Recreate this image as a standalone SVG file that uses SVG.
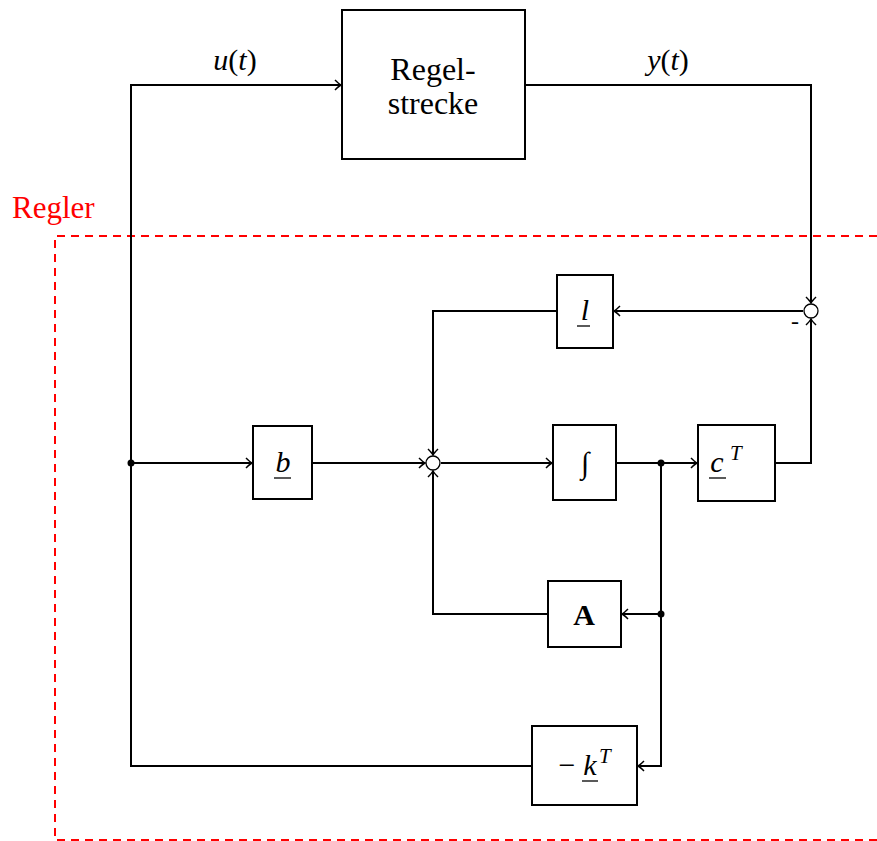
<svg xmlns="http://www.w3.org/2000/svg" width="877" height="841" viewBox="0 0 877 841" font-family="'Liberation Serif', 'DejaVu Serif', serif">
<style>
.box{fill:#fff;stroke:#000;stroke-width:2}
.ln{fill:none;stroke:#000;stroke-width:2}
.arr{marker-end:url(#ah)}
.sum{fill:#fff;stroke:#000;stroke-width:1.3}
.t{font-size:30px;fill:#000}
.m{font-style:italic}
.sup{font-size:21px;font-style:italic}
.ul{stroke:#000;stroke-width:1.3}
.dot{fill:#000}
</style>
<defs>
<marker id="ah" viewBox="-8 -6 10 12" refX="0" refY="0" markerWidth="10" markerHeight="12" orient="auto" markerUnits="userSpaceOnUse">
<path d="M -6 -5 Q -2 -1 0 0 Q -2 1 -6 5" fill="none" stroke="#000" stroke-width="1.5"/>
</marker>
</defs>

<g id="regler-frame">
<path d="M 877 236 H 55 V 840 H 877" fill="none" stroke="#f00" stroke-width="2" stroke-dasharray="8,6"/>
<text x="12" y="218" class="t" font-family="'Liberation Serif', serif" style="fill:#f00;font-size:31px">Regler</text>
</g>

<g id="connectors">
<path class="ln arr" d="M 131 463 V 85 H 341"/>
<path class="ln arr" d="M 525 85 H 811 V 303"/>
<path class="ln arr" d="M 775 463 H 811 V 319"/>
<path class="ln arr" d="M 803 311 H 614"/>
<path class="ln arr" d="M 557 311 H 433 V 455"/>
<path class="ln arr" d="M 131 463 H 252"/>
<path class="ln arr" d="M 312 463 H 425"/>
<path class="ln arr" d="M 441 463 H 552"/>
<path class="ln arr" d="M 616 463 H 697"/>
<path class="ln" d="M 661 463 V 614"/>
<path class="ln arr" d="M 661 614 H 622"/>
<path class="ln arr" d="M 548 614 H 433 V 471"/>
<path class="ln arr" d="M 661 614 V 766 H 638"/>
<path class="ln" d="M 532 766 H 131 V 463"/>
<circle class="dot" cx="131" cy="463" r="3.5"/>
<circle class="dot" cx="661" cy="463" r="3.5"/>
<circle class="dot" cx="661" cy="614" r="3.5"/>
<text x="235" y="70" class="t m" font-family="'Liberation Serif', serif" text-anchor="middle">u<tspan font-style="normal">(</tspan>t<tspan font-style="normal">)</tspan></text>
<text x="668" y="70" class="t m" font-family="'Liberation Serif', serif" text-anchor="middle">y<tspan font-style="normal">(</tspan>t<tspan font-style="normal">)</tspan></text>
<text x="795" y="329" class="t" font-family="'Liberation Serif', serif" text-anchor="middle" style="font-size:24px">-</text>
</g>

<g id="regelstrecke">
<rect class="box" x="342" y="10" width="183" height="149"/>
<text x="433" y="80" class="t" font-family="'Liberation Serif', serif" text-anchor="middle" style="font-size:32px">Regel-</text>
<text x="433" y="114" class="t" font-family="'Liberation Serif', serif" text-anchor="middle" style="font-size:32px">strecke</text>
</g>

<g id="sum1">
<circle class="sum" cx="811" cy="311" r="7"/>
</g>

<g id="sum2">
<circle class="sum" cx="433" cy="463" r="7"/>
</g>

<g id="block-l">
<rect class="box" x="557" y="275" width="56" height="73"/>
<text x="585" y="320" class="t m" font-family="'Liberation Serif', serif" text-anchor="middle">l</text>
<line class="ul" x1="577" y1="326" x2="590" y2="326"/>
</g>

<g id="block-b">
<rect class="box" x="253" y="426" width="59" height="73"/>
<text x="283" y="472" class="t m" font-family="'Liberation Serif', serif" text-anchor="middle">b</text>
<line class="ul" x1="274" y1="478" x2="291" y2="478"/>
</g>

<g id="block-int">
<rect class="box" x="553" y="425" width="63" height="75"/>
<text x="585" y="473" class="t" font-family="'Liberation Serif', serif" text-anchor="middle">∫</text>
</g>

<g id="block-c">
<rect class="box" x="698" y="425" width="77" height="76"/>
<text x="717" y="472" class="t m" font-family="'Liberation Serif', serif" text-anchor="middle">c</text>
<text x="730" y="460" class="sup" font-family="'Liberation Serif', serif">T</text>
<line class="ul" x1="709" y1="478" x2="726" y2="478"/>
</g>

<g id="block-A">
<rect class="box" x="548" y="581" width="73" height="66"/>
<text x="584" y="625" class="t" font-family="'Liberation Serif', serif" text-anchor="middle" font-weight="bold">A</text>
</g>

<g id="block-k">
<rect class="box" x="532" y="726" width="105" height="79"/>
<text x="567" y="775" class="t" font-family="'Liberation Serif', serif" text-anchor="middle">−</text>
<text x="590" y="775" class="t m" font-family="'Liberation Serif', serif" text-anchor="middle">k</text>
<text x="599" y="763" class="sup" font-family="'Liberation Serif', serif">T</text>
<line class="ul" x1="582" y1="781" x2="598" y2="781"/>
</g>
</svg>
